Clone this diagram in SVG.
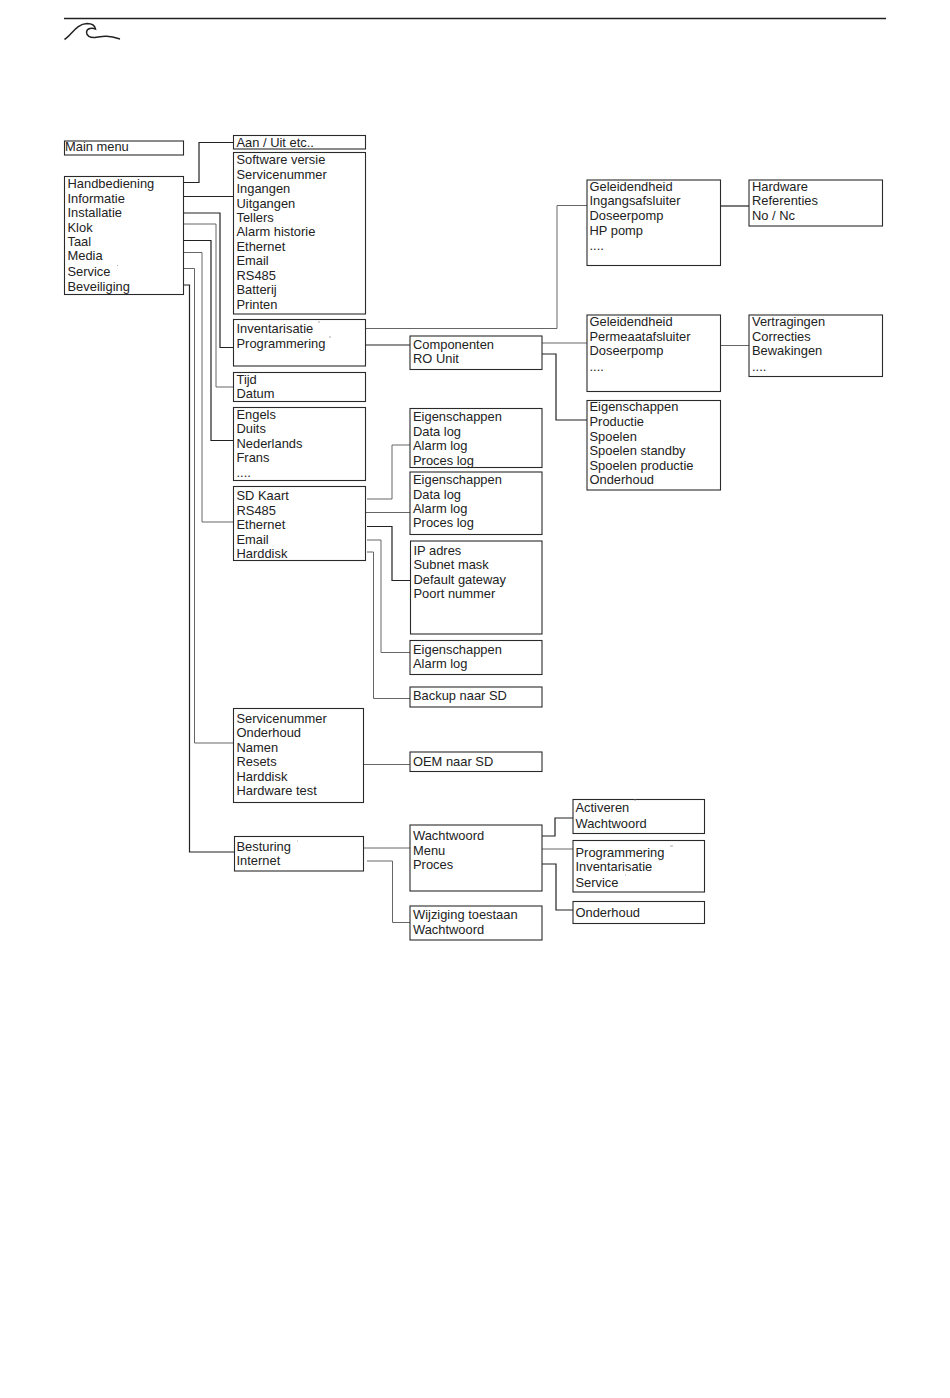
<svg xmlns="http://www.w3.org/2000/svg" width="950" height="1398" viewBox="0 0 950 1398">
<style>
text{font-family:"Liberation Sans",Arial,sans-serif;font-size:12.9px;fill:#222;transform:translateY(-.5px)}
rect{fill:#fff;stroke:#2a2a2a;stroke-width:1.1}
.c path{fill:none;stroke:#222;stroke-width:1.2}
.c path.l{stroke:#666;stroke-width:1}
.s path{fill:none;stroke:#888;stroke-width:.7}
</style>
<rect x="0" y="0" width="950" height="1398" style="stroke:none"/>
<g id="header">
<path d="M64 18.500H886" fill="none" stroke="#222" stroke-width="1.3"/>
<path d="M64.500 39.500C72 35 76 24 87 23.500C92 23.500 95 26 95.500 29C92 27.500 87 28 86.500 32C86.500 36 90 38 95 37.500C102 36.500 106 34.500 120 39" fill="none" stroke="#222" stroke-width="1.5"/>
</g>
<g class="c" id="connectors">
<path d="M183.500 182.500H199V142.500H233.500"/>
<path d="M183.500 196.500H233.500"/>
<path d="M183.500 213H220V347.500H233.500"/>
<path class="l" d="M183.500 224H216V387H233.500"/>
<path d="M183.500 240.500H211V440.500H233.500"/>
<path class="l" d="M183.500 252.500H202V522H233.500"/>
<path class="l" d="M183.500 268.500H194.500V743H233.500"/>
<path d="M183.500 285H189.500V852H234.500"/>
<path class="l" d="M365.500 328.500H557V205.500H587"/>
<path d="M365.500 345H410"/>
<path class="l" d="M542 343H587"/>
<path d="M542 354H556V420H587"/>
<path d="M720.500 206H749"/>
<path class="l" d="M720.500 345.500H749"/>
<path class="l" d="M367 499H392V445H410"/>
<path class="l" d="M365.500 512.500H410"/>
<path d="M367 526.500H392V580.500H410"/>
<path class="l" d="M367 540H381V652.500H410"/>
<path class="l" d="M367 552H373.500V698.500H410"/>
<path class="l" d="M363.500 764.500H410"/>
<path class="l" d="M363.500 848H410"/>
<path class="l" d="M367 861H392.500V922.500H410"/>
<path d="M542 836H555V818H573"/>
<path class="l" d="M542 849H573"/>
<path d="M542 864H556V910H573"/>
</g>
<g id="main-menu"><rect x="64.500" y="141" width="119" height="14"/><text x="65" y="151.500">Main menu</text></g>
<g id="menu"><rect x="64.500" y="176.500" width="119" height="118"/>
<text x="67.500" y="188.500">Handbediening</text><text x="67.500" y="203">Informatie</text><text x="67.500" y="217">Installatie</text><text x="67.500" y="232">Klok</text><text x="67.500" y="246">Taal</text><text x="67.500" y="260">Media</text><text x="67.500" y="276">Service</text><text x="67.500" y="291">Beveiliging</text></g>
<g id="aan-uit"><rect x="233.500" y="135.500" width="132" height="13.500"/><text x="236.500" y="147.500">Aan / Uit etc..</text></g>
<g id="informatie"><rect x="233.500" y="152.500" width="132" height="161.500"/>
<text x="236.500" y="164.500">Software versie</text><text x="236.500" y="179">Servicenummer</text><text x="236.500" y="193.500">Ingangen</text><text x="236.500" y="208">Uitgangen</text><text x="236.500" y="222">Tellers</text><text x="236.500" y="236.500">Alarm historie</text><text x="236.500" y="251">Ethernet</text><text x="236.500" y="265.500">Email</text><text x="236.500" y="280">RS485</text><text x="236.500" y="294.500">Batterij</text><text x="236.500" y="309">Printen</text></g>
<g id="installatie"><rect x="233.500" y="319.500" width="132" height="46.500"/><text x="236.500" y="333.500">Inventarisatie</text><text x="236.500" y="348">Programmering</text></g>
<g id="klok"><rect x="233.500" y="372.500" width="132" height="29"/><text x="236.500" y="384.500">Tijd</text><text x="236.500" y="398.500">Datum</text></g>
<g id="taal"><rect x="233.500" y="407.500" width="132" height="73"/><text x="236.500" y="419">Engels</text><text x="236.500" y="433.500">Duits</text><text x="236.500" y="448">Nederlands</text><text x="236.500" y="462.500">Frans</text><text x="236.500" y="477">....</text></g>
<g id="media"><rect x="233.500" y="486.500" width="132" height="74"/><text x="236.500" y="500.500">SD Kaart</text><text x="236.500" y="515">RS485</text><text x="236.500" y="529.500">Ethernet</text><text x="236.500" y="544">Email</text><text x="236.500" y="558">Harddisk</text></g>
<g id="service"><rect x="233.500" y="708.500" width="130" height="94"/><text x="236.500" y="723">Servicenummer</text><text x="236.500" y="737.500">Onderhoud</text><text x="236.500" y="752">Namen</text><text x="236.500" y="766.500">Resets</text><text x="236.500" y="781">Harddisk</text><text x="236.500" y="795">Hardware test</text></g>
<g id="beveiliging"><rect x="234.500" y="836.500" width="129" height="34.500"/><text x="236.500" y="851.500">Besturing</text><text x="236.500" y="865.500">Internet</text></g>
<g id="componenten"><rect x="410" y="336" width="132" height="33.500"/><text x="413" y="349.500">Componenten</text><text x="413" y="363.500">RO Unit</text></g>
<g id="sd"><rect x="410" y="408.500" width="132" height="59"/><text x="413" y="421.500">Eigenschappen</text><text x="413" y="436">Data log</text><text x="413" y="450.500">Alarm log</text><text x="413" y="465">Proces log</text></g>
<g id="rs485"><rect x="410" y="472" width="132" height="62.500"/><text x="413" y="484.500">Eigenschappen</text><text x="413" y="499">Data log</text><text x="413" y="513">Alarm log</text><text x="413" y="527.500">Proces log</text></g>
<g id="ethernet"><rect x="410.500" y="541" width="131.500" height="93"/><text x="413.500" y="555">IP adres</text><text x="413.500" y="569.500">Subnet mask</text><text x="413.500" y="584">Default gateway</text><text x="413.500" y="598.500">Poort nummer</text></g>
<g id="email"><rect x="410" y="640.500" width="132" height="34"/><text x="413" y="654">Eigenschappen</text><text x="413" y="668.500">Alarm log</text></g>
<g id="backup"><rect x="410" y="687" width="132" height="20"/><text x="413" y="700">Backup naar SD</text></g>
<g id="oem"><rect x="410" y="752" width="132" height="19.500"/><text x="413" y="766">OEM naar SD</text></g>
<g id="wachtwoord"><rect x="410" y="825" width="132" height="66"/><text x="413" y="840">Wachtwoord</text><text x="413" y="855">Menu</text><text x="413" y="869.500">Proces</text></g>
<g id="wijziging"><rect x="410" y="906" width="132" height="34"/><text x="413" y="919.500">Wijziging toestaan</text><text x="413" y="934">Wachtwoord</text></g>
<g id="activeren"><rect x="573" y="799.500" width="131.500" height="34"/><text x="575.500" y="812">Activeren</text><text x="575.500" y="828.500">Wachtwoord</text></g>
<g id="besturing-menu"><rect x="573" y="840.500" width="131.500" height="51.500"/><text x="575.500" y="857">Programmering</text><text x="575.500" y="871.500">Inventarisatie</text><text x="575.500" y="887">Service</text></g>
<g id="onderhoud"><rect x="573" y="901.500" width="131.500" height="22"/><text x="575.500" y="917">Onderhoud</text></g>
<g id="ro-1"><rect x="587" y="180" width="133.500" height="85.500"/><text x="589.500" y="191">Geleidendheid</text><text x="589.500" y="205.500">Ingangsafsluiter</text><text x="589.500" y="220">Doseerpomp</text><text x="589.500" y="235">HP pomp</text><text x="589.500" y="250">....</text></g>
<g id="hardware"><rect x="749" y="180" width="133.500" height="46"/><text x="752" y="191">Hardware</text><text x="752" y="205.500">Referenties</text><text x="752" y="220">No / Nc</text></g>
<g id="ro-2"><rect x="587" y="315" width="133.500" height="76.500"/><text x="589.500" y="326.500">Geleidendheid</text><text x="589.500" y="341">Permeaatafsluiter</text><text x="589.500" y="355.500">Doseerpomp</text><text x="589.500" y="371">....</text></g>
<g id="vertragingen"><rect x="749" y="315" width="133.500" height="61.500"/><text x="752" y="326.500">Vertragingen</text><text x="752" y="341">Correcties</text><text x="752" y="355.500">Bewakingen</text><text x="752" y="371">....</text></g>
<g id="ro-3"><rect x="587" y="400.500" width="133.500" height="89.500"/><text x="589.500" y="411.500">Eigenschappen</text><text x="589.500" y="426">Productie</text><text x="589.500" y="441">Spoelen</text><text x="589.500" y="455.500">Spoelen standby</text><text x="589.500" y="470">Spoelen productie</text><text x="589.500" y="484.500">Onderhoud</text></g>
<g class="s" id="specks"><path d="M117 265.500h1M318 322h2M329 337h2M297 841h1M634 800h2M670 846h3M659 860h1M625 875h1"/></g>
</svg>
